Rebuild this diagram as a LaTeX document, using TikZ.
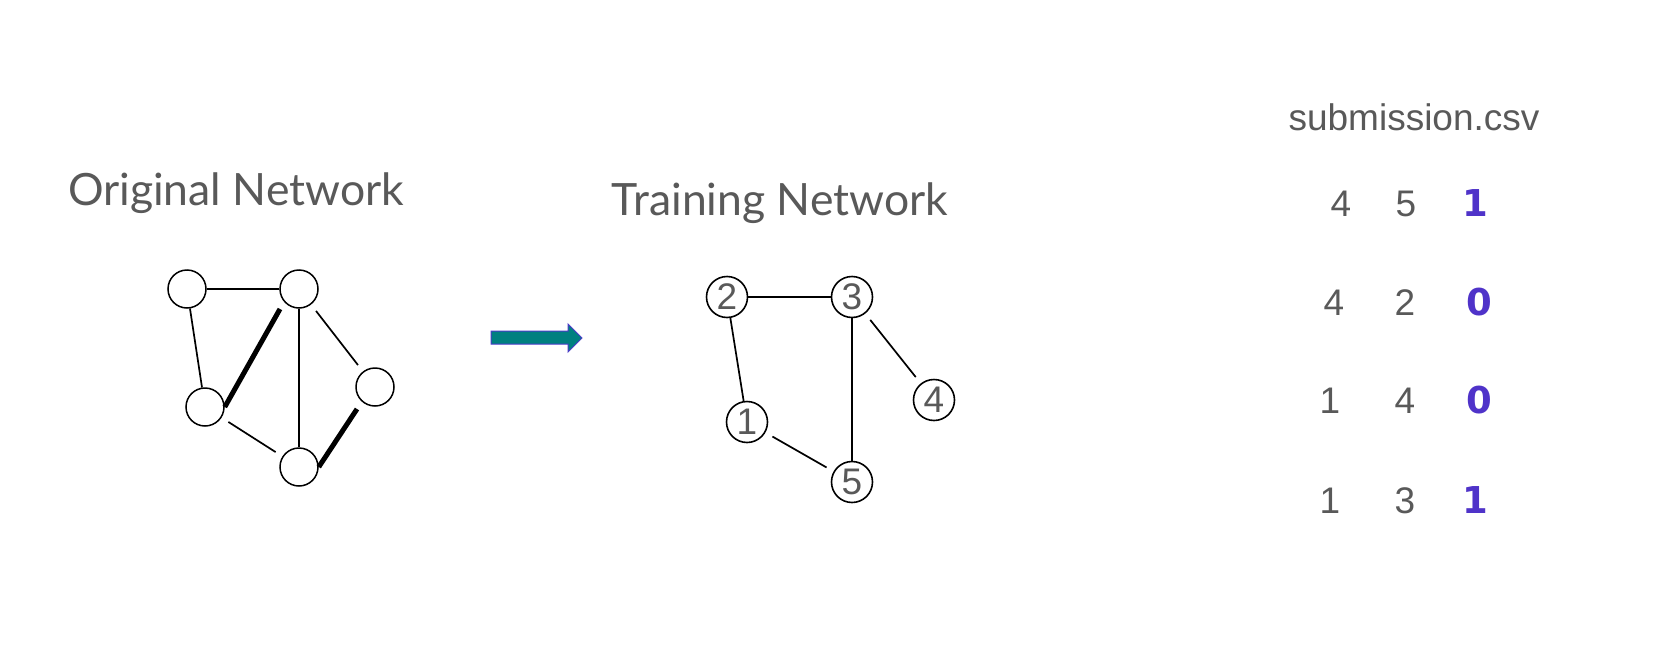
\documentclass[tikz,border=0pt]{standalone}
\usepackage{fontspec}
\setmainfont{Lato}
\newfontfamily\arialfont{Liberation Sans}
\newfontfamily\dejafont{DejaVu Sans}
\usetikzlibrary{calc}
\definecolor{txtgray}{HTML}{595959}
\definecolor{idpurple}{HTML}{4F33C9}
\definecolor{arrowfill}{HTML}{008080}
\definecolor{arrowedge}{HTML}{4B3CC8}
\begin{document}
\begin{tikzpicture}[x=1pt,y=-1pt,
  plainnode/.style={circle,draw=black,line width=1.5pt,minimum size=38pt,inner sep=0pt},
  numnode/.style={circle,draw=black,line width=1.6pt,minimum size=41pt,inner sep=0pt,
    font=\arialfont\fontsize{37}{37}\selectfont,text=txtgray},
  thinline/.style={line width=1.7pt},
  boldline/.style={line width=5pt},
  gapline/.style={line width=1.7pt,shorten >=8pt,shorten <=8pt},
  headline/.style={font=\fontsize{44.5}{44.5}\selectfont,text=txtgray,anchor=base,inner sep=0pt},
  cell/.style={font=\arialfont\fontsize{37}{37}\selectfont,text=txtgray,anchor=base,inner sep=0pt},
  flag/.style={font=\dejafont\bfseries\fontsize{37}{37}\selectfont,text=idpurple,anchor=base,inner sep=0pt}]
\useasboundingbox[fill=white] (0,0) rectangle (1662,645);

% titles
\node[headline] (t1) at (236,205) {Original Network};
\node[headline] (t2) at (780,215) {Training Network};

% original network
\node[plainnode] (A) at (187,289) {};
\node[plainnode] (B) at (299,289) {};
\node[plainnode] (C) at (205,407) {};
\node[plainnode] (D) at (375,387) {};
\node[plainnode] (E) at (299,467) {};
\draw[thinline] (A) -- (B);
\draw[thinline] (A) -- (C);
\draw[thinline] (B) -- (E);
\draw[gapline] (B) -- (D);
\draw[gapline] (C) -- (E);
\draw[boldline] (C.east) -- ($(B.center)+(-19,20)$);
\draw[boldline] (E.east) -- ($(D.center)+(-18,22)$);

% arrow
\draw[fill=arrowfill,draw=arrowedge,line width=1pt]
  (491,331) -- (568,331) -- (568,324) -- (582,338) -- (568,352) -- (568,344) -- (491,344) -- cycle;

% training network
\node[numnode] (n2) at (727,297) {2};
\node[numnode] (n3) at (852,297) {3};
\node[numnode] (n4) at (934,400) {4};
\node[numnode] (n1) at (747,422) {1};
\node[numnode] (n5) at (852,482) {5};
\draw[thinline] (n2) -- (n3);
\draw[thinline] (n2) -- (n1);
\draw[thinline] (n3) -- (n5);
\draw[gapline] (n3) -- (n4);
\draw[gapline] (n1) -- (n5);

% submission table
\node[cell] (sub) at (1414,130) {submission.csv};
\node[cell] (r1a) at (1341,216) {4};
\node[cell] (r1b) at (1406,216) {5};
\node[flag] (r1c) at (1475,216) {1};
\node[cell] (r2a) at (1334,315) {4};
\node[cell] (r2b) at (1405,315) {2};
\node[flag] (r2c) at (1479,315) {0};
\node[cell] (r3a) at (1330,413) {1};
\node[cell] (r3b) at (1405,413) {4};
\node[flag] (r3c) at (1479,413) {0};
\node[cell] (r4a) at (1330,513) {1};
\node[cell] (r4b) at (1405,513) {3};
\node[flag] (r4c) at (1475,513) {1};
\end{tikzpicture}
\end{document}
